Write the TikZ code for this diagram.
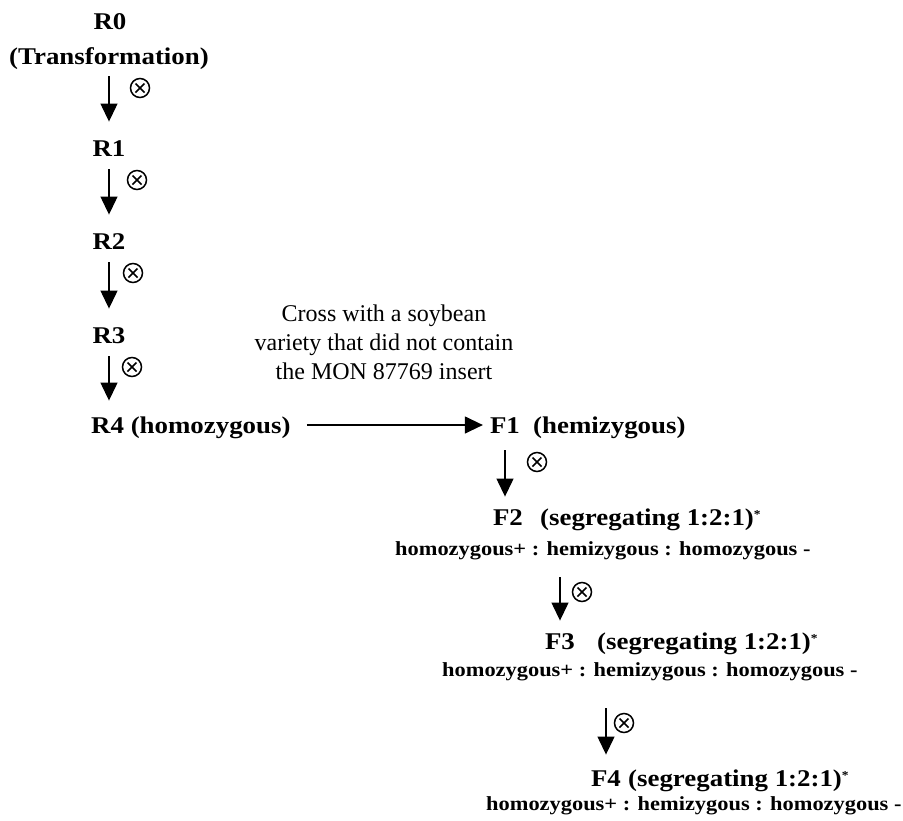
\documentclass[tikz,border=0pt]{standalone}
\usepackage{fontspec}
\setmainfont{Liberation Serif}
\newfontfamily\wfam{Liberation Serif}[FakeStretch=1.12]
\usetikzlibrary{arrows.meta}
\tikzset{
  lab/.style={inner sep=0pt, font=\wfam\bfseries\fontsize{24}{24}\selectfont, text height=16.5pt, text depth=0pt},
  sub/.style={inner sep=0pt, anchor=west, font=\wfam\bfseries\fontsize{20}{20}\selectfont, text height=14pt, text depth=4pt},
  arr/.style={line width=1.3pt, -{Triangle[width=17pt,length=18pt]}},
  otim/.style={circle, draw, line width=1.5pt, minimum size=19pt, inner sep=0pt,
    path picture={\draw[line width=1.7pt]
      ([shift={(-4.5pt,-4.5pt)}]path picture bounding box.center) -- ([shift={(4.5pt,4.5pt)}]path picture bounding box.center)
      ([shift={(-4.5pt,4.5pt)}]path picture bounding box.center) -- ([shift={(4.5pt,-4.5pt)}]path picture bounding box.center);}}
}
\newcommand{\astmark}{\raisebox{7pt}{\fontsize{12}{12}\selectfont *}}
\begin{document}
\begin{tikzpicture}[x=1pt,y=-1pt]
\path[use as bounding box, fill=white] (0,0) rectangle (903,820);
% R column
\node[lab] (R0) at (110,21) {R0};
\node[lab] (R0t) at (109,56) {(Transformation)};
\node[lab] (R1) at (109,148) {R1};
\node[lab] (R2) at (109,241) {R2};
\node[lab] (R3) at (109,335) {R3};
\node[lab, anchor=west] (R4) at (91,425) {R4 (homozygous)};
\draw[arr, shorten <=12pt, shorten >=18pt] (R0t.south) -- (R0t.south |- R1.north);
\draw[arr, shorten <=13pt, shorten >=18pt] (R1.south) -- (R1.south |- R2.north);
\draw[arr, shorten <=13pt, shorten >=18pt] (R2.south) -- (R2.south |- R3.north);
\draw[arr, shorten <=13pt, shorten >=16pt] (R3.south) -- (R3.south |- R4.north);
\node[otim] (o1) at (140,88) {};
\node[otim] (o2) at (137,180) {};
\node[otim] (o3) at (133,273) {};
\node[otim] (o4) at (132,367) {};
% cross
\node[inner sep=0pt, align=center, font=\fontsize{24}{29}\selectfont] (cross) at (384,342)
  {Cross with a soybean\\variety that did not contain\\the MON 87769 insert};
% F rows
\node[lab] (F1) at (505,425) {F1};
\node[lab, anchor=west] (F1t) at (533,425) {(hemizygous)};
\draw[arr, shorten <=16pt, shorten >=7pt] (R4.east) -- (F1.west);
\node[lab] (F2) at (508,517) {F2};
\node[lab, anchor=west] (F2t) at (540,517) {(segregating 1:2:1)\astmark};
\node[sub] (F2s) at (395,550) {homozygous+ : hemizygous : homozygous -};
\node[lab] (F3) at (560,641) {F3};
\node[lab, anchor=west] (F3t) at (597,641) {(segregating 1:2:1)\astmark};
\node[sub] (F3s) at (442,671) {homozygous+ : hemizygous : homozygous -};
\node[lab] (F4) at (606,778) {F4};
\node[lab, anchor=west] (F4t) at (628,778) {(segregating 1:2:1)\astmark};
\node[sub] (F4s) at (486,805) {homozygous+ : hemizygous : homozygous -};
\draw[arr, shorten <=17pt, shorten >=12pt] (F1.south) -- (F1.south |- F2.north);
\draw[arr, shorten <=18pt, shorten >=12pt] (F2s.south -| F3.north) -- (F3.north);
\draw[arr, shorten <=28pt, shorten >=15pt] (F3s.south -| F4.north) -- (F4.north);
\node[otim] (o5) at (537,462) {};
\node[otim] (o6) at (582,592) {};
\node[otim] (o7) at (624,723) {};
\end{tikzpicture}
\end{document}
